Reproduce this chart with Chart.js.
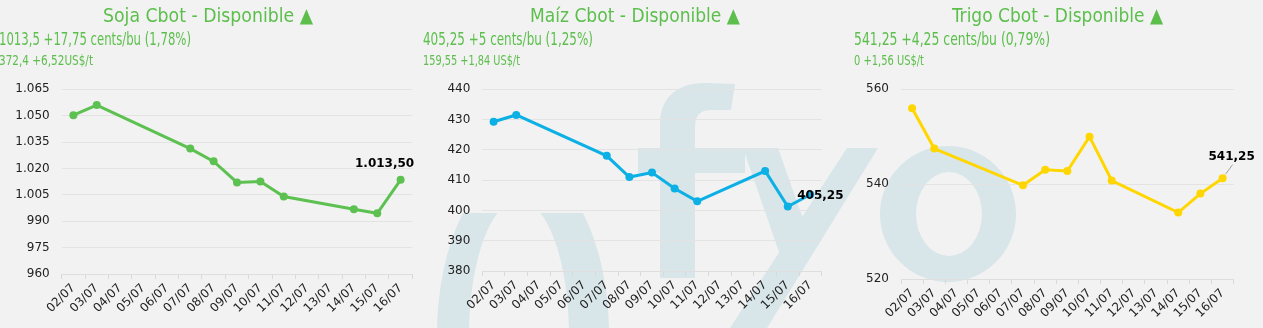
<!DOCTYPE html>
<html><head><meta charset="utf-8">
<script src="https://cdn.jsdelivr.net/npm/chart.js@4.4.1/dist/chart.umd.min.js"></script>
<style>
html,body{margin:0;padding:0;background:#f2f2f2;width:1263px;height:328px;overflow:hidden;position:relative;}
#wm{position:absolute;left:0;top:0;z-index:0}
.cv{position:absolute;z-index:1}
.t{position:absolute;z-index:2;white-space:nowrap;color:#5cbf4c;font-family:"Liberation Sans Narrow","DejaVu Sans Condensed",sans-serif;transform-origin:0 0;}
.title{font-size:20px;line-height:20px;top:5px}
.l1{font-size:17.5px;line-height:17.5px;top:31px}
.l2{font-size:14px;line-height:14px;top:53px}
</style></head><body>
<canvas id="wm" width="1263" height="328"></canvas>

<div class="t title" data-x="103" data-w="210">Soja Cbot - Disponible ▲</div>
<div class="t l1" data-x="-1" data-w="192">1013,5 +17,75 cents/bu (1,78%)</div>
<div class="t l2" data-x="-1" data-w="94">372,4 +6,52US$/t</div>

<div class="t title" data-x="530" data-w="210">Maíz Cbot - Disponible ▲</div>
<div class="t l1" data-x="423" data-w="170">405,25 +5 cents/bu (1,25%)</div>
<div class="t l2" data-x="423" data-w="97">159,55 +1,84 US$/t</div>

<div class="t title" data-x="952" data-w="211">Trigo Cbot - Disponible ▲</div>
<div class="t l1" data-x="854" data-w="196">541,25 +4,25 cents/bu (0,79%)</div>
<div class="t l2" data-x="854" data-w="70">0 +1,56 US$/t</div>

<canvas id="c1" class="cv" width="421" height="258" style="left:0;top:70px"></canvas>
<canvas id="c2" class="cv" width="430" height="258" style="left:421px;top:70px"></canvas>
<canvas id="c3" class="cv" width="421" height="258" style="left:842px;top:70px"></canvas>

<script>
// ---- data ----
const categories = ['02/07','03/07','04/07','05/07','06/07','07/07','08/07','09/07','10/07','11/07','12/07','13/07','14/07','15/07','16/07'];
const sojaValues  = [1050.25, 1056, null, null, null, 1031.25, 1024, 1012, 1012.5, 1004, null, null, 996.75, 994.5, 1013.5];
const maizValues  = [429.25, 431.5, null, null, null, 418, 411, 412.5, 407.25, 403, null, null, 413, 401.25, 405.25];
const trigoValues = [556, 547.5, null, null, null, 539.75, 543, 542.75, 550, 540.75, null, null, 534, 538, 541.25];
const sojaTicks  = [960, 975, 990, 1005, 1020, 1035, 1050, 1065];
const maizTicks  = [380, 390, 400, 410, 420, 430, 440];
const trigoTicks = [520, 540, 560];

// ---- text fitting ----
document.querySelectorAll('.t').forEach(el => {
  el.style.left = el.dataset.x + 'px';
  const mw = el.getBoundingClientRect().width;
  el.style.transform = 'scaleX(' + (+el.dataset.w / mw) + ')';
});

// ---- watermark ----
(function(){
  const w = document.getElementById('wm').getContext('2d');
  w.fillStyle = '#d8e5e9';
  w.save(); w.beginPath(); w.rect(0, 213, 1263, 115); w.clip();
  w.beginPath();
  w.ellipse(523, 335, 86, 170, 0, 0, Math.PI * 2);
  w.ellipse(519, 335, 50, 135, 0, 0, Math.PI * 2);
  w.fill('evenodd'); w.restore();
  w.beginPath();
  w.moveTo(660, 278); w.lineTo(660, 125);
  w.bezierCurveTo(660, 95, 680, 83, 705, 83);
  w.lineTo(735, 84); w.lineTo(731, 110); w.lineTo(712, 110);
  w.bezierCurveTo(700, 110, 695, 115, 695, 128);
  w.lineTo(695, 278); w.closePath(); w.fill();
  w.fillRect(638, 148, 107, 25);
  w.beginPath(); w.moveTo(847, 148); w.lineTo(878, 148); w.lineTo(767, 328); w.lineTo(730, 328); w.closePath(); w.fill();
  w.beginPath(); w.moveTo(743, 148); w.lineTo(778, 148); w.lineTo(813, 247); w.lineTo(779, 252); w.closePath(); w.fill();
  w.beginPath();
  w.ellipse(948, 214, 68, 68, 0, 0, Math.PI * 2);
  w.ellipse(949, 214, 33, 42, 0, 0, Math.PI * 2);
  w.fill('evenodd');
})();

function fmtInt(v){ return String(Math.round(v)).replace(/\B(?=(\d{3})+(?!\d))/g, '.'); }
function fmtDec(v){
  const p = v.toFixed(2).split('.');
  return p[0].replace(/\B(?=(\d{3})+(?!\d))/g, '.') + ',' + p[1];
}

const lastLabelPlugin = {
  id: 'lastLabel',
  afterDatasetsDraw(chart, args, opts) {
    const data = chart.data.datasets[0].data;
    let i = data.length - 1;
    while (i >= 0 && data[i] == null) i--;
    const pt = chart.getDatasetMeta(0).data[i];
    const ctx = chart.ctx;
    const tx = pt.x + opts.dx, ty = pt.y + opts.dy;
    ctx.save();
    if (opts.leader) {
      ctx.strokeStyle = '#a0a0a0'; ctx.lineWidth = 1;
      ctx.beginPath(); ctx.moveTo(tx + 1, ty + 8); ctx.lineTo(pt.x + 3, pt.y - 4); ctx.stroke();
    }
    ctx.font = 'bold 12px "DejaVu Sans"';
    ctx.textAlign = 'center'; ctx.textBaseline = 'middle';
    ctx.fillStyle = '#000';
    ctx.fillText(fmtDec(data[i]), tx, ty);
    ctx.restore();
  }
};

const tickFont = { family: 'DejaVu Sans', size: 12 };

function makeChart(id, values, color, yTicks, g, lbl) {
  const yMin = yTicks[0], yMax = yTicks[yTicks.length - 1];
  new Chart(document.getElementById(id), {
    type: 'line',
    data: { labels: categories, datasets: [{
      data: values, borderColor: color, backgroundColor: color,
      pointBackgroundColor: color, pointBorderColor: color,
      borderWidth: 3, pointRadius: 4, pointHoverRadius: 4, pointBorderWidth: 0,
      spanGaps: true, tension: 0, fill: false
    }]},
    options: {
      responsive: false, animation: false, devicePixelRatio: 1,
      events: [],
      layout: { padding: { left: 0, right: g.pr, top: g.pt, bottom: 0 } },
      plugins: { legend: { display: false }, tooltip: { enabled: false }, lastLabel: lbl },
      scales: {
        x: {
          offset: true,
          grid: { offset: true, drawOnChartArea: false, drawTicks: true, tickLength: 5, color: '#d9d9d9' },
          border: { display: true, color: '#dedede' },
          ticks: { autoSkip: false, maxRotation: 45, minRotation: 45, font: tickFont, color: '#222', padding: 2 },
          afterFit(s) { s.height = g.xh; }
        },
        y: {
          min: yMin, max: yMax,
          afterBuildTicks(s) { s.ticks = yTicks.map(v => ({ value: v })); },
          grid: { color: '#e3e3e3', drawTicks: false },
          border: { display: false },
          ticks: { padding: 12, font: tickFont, color: '#222', callback: v => fmtInt(v) },
          afterFit(s) { s.width = g.yw; }
        }
      }
    },
    plugins: [lastLabelPlugin]
  });
}

makeChart('c1', sojaValues, '#5dc151', sojaTicks, { pr: 8.7, pt: 16, yw: 61.7, xh: 54 }, { dx: -16, dy: -15.6 });
makeChart('c2', maizValues, '#0db0e4', maizTicks, { pr: 29.3, pt: 17.3, yw: 61.3, xh: 57 }, { dx: 10, dy: 1 });
makeChart('c3', trigoValues, '#ffd600', trigoTicks, { pr: 29.3, pt: 16.7, yw: 59, xh: 49 }, { dx: 9, dy: -21.6, leader: true });
</script>
</body></html>
